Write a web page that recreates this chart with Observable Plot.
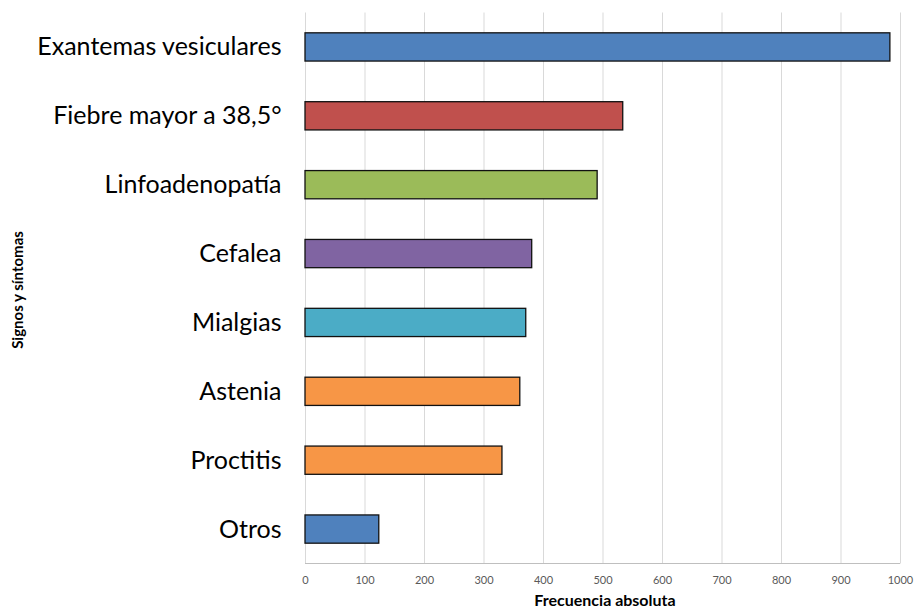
<!DOCTYPE html>
<html><head><meta charset="utf-8">
<script src="https://cdn.jsdelivr.net/npm/d3@7"></script>
<script src="https://cdn.jsdelivr.net/npm/@observablehq/plot@0.6"></script>
<style>body{margin:0;background:#fff}</style>
</head><body><div id="chart"></div>
<script>
const categories = ["Exantemas vesiculares","Fiebre mayor a 38,5°","Linfoadenopatía","Cefalea","Mialgias","Astenia","Proctitis","Otros"];
const values = [983, 534, 491, 381, 371, 361, 331, 124];
const colors = ["#4F81BD","#C0504D","#9BBB59","#8064A2","#4BACC6","#F79646","#F79646","#4F81BD"];
const xTicks = [0,100,200,300,400,500,600,700,800,900,1000];
const data = categories.map((c,i)=>({cat:c, val:values[i], col:colors[i]}));

const chart = Plot.plot({
  width: 915, height: 610,
  marginLeft: 305, marginRight: 15, marginTop: 12.5, marginBottom: 46.5,
  style: {fontFamily: "Lato, 'Open Sans', sans-serif", background: "#fff"},
  x: {domain: [0,1000], ticks: xTicks, label: null},
  y: {domain: categories, paddingInner: 0.59, paddingOuter: 0.295, round: false, label: null},
  marks: [
    Plot.gridX(xTicks, {stroke: "#d9d9d9", strokeOpacity: 1}),
    Plot.barX(data, {x: "val", y: "cat", fill: "col", stroke: "#111", strokeWidth: 1.3}),
    Plot.axisX(xTicks, {tickSize: 0, tickPadding: 12, fontSize: 11, fill: "#595959", tickFormat: d => String(d)}),
    Plot.axisY({tickSize: 0, tickPadding: 24, fontSize: 25, fill: "#000"})
  ]
});
document.getElementById("chart").appendChild(chart);
const svg = d3.select(chart);
svg.append("line").attr("x1",305).attr("x2",900).attr("y1",563.5).attr("y2",563.5).attr("stroke","#bfbfbf");
svg.append("text").attr("x",605).attr("y",606).attr("text-anchor","middle")
  .style("font-family","Lato, sans-serif").style("font-weight","bold").style("font-size","16px").text("Frecuencia absoluta");
svg.append("text").attr("transform","translate(23,290) rotate(-90)").attr("text-anchor","middle")
  .style("font-family","Lato, sans-serif").style("font-weight","bold").style("font-size","15px").text("Signos y síntomas");
</script></body></html>
